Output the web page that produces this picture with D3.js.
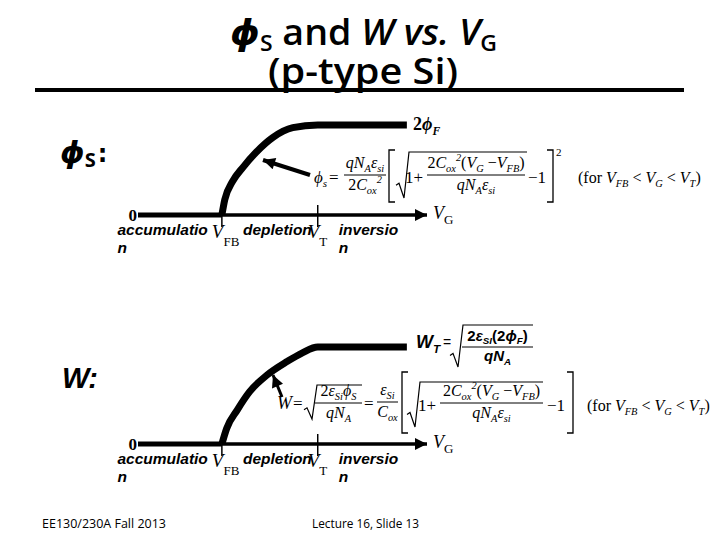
<!DOCTYPE html>
<html>
<head>
<meta charset="utf-8">
<script src="https://cdn.jsdelivr.net/npm/d3@7"></script>
<style>
  body { margin: 0; background: #fff; }
  svg { display: block; }
</style>
</head>
<body>
<div id="chart"></div>
<script>
// gate voltage, normalised so that VFB = 0 and VT = 1
const axisDomain = [-0.875, 2.14];
const vgTicks = [0, 1];
const vgTickNames = [["V", "FB"], ["V", "T"]];
const regionLines = [["accumulatio", "n"], ["depletion"], ["inversio", "n"]];
const regionStart = [-1.09, 0.22, 1.22];

// surface potential, as fraction of 2phiF (first point = accumulation start)
const phiVG = [-0.875, 0, 0.03, 0.11, 0.22, 0.36, 0.53, 0.74, 1.0, 1.93];
const phiVal = [0, 0, 0.17, 0.37, 0.53, 0.70, 0.86, 0.97, 1.0, 1.0];

// depletion width, as fraction of WT
const wVG = [-0.875, 0, 0.05, 0.16, 0.29, 0.47, 0.68, 0.84, 1.0, 1.93];
const wVal = [0, 0, 0.16, 0.35, 0.54, 0.71, 0.85, 0.94, 1.0, 1.0];

const width = 720, height = 540;
const svg = d3.select("#chart").append("svg")
  .attr("width", width)
  .attr("height", height);

svg.append("rect").attr("width", width).attr("height", height).attr("fill", "#fff");

const titleFont = "'Open Sans', 'DejaVu Sans', sans-serif";
const serif = "'Liberation Serif', 'DejaVu Serif', serif";
const sans = "'Liberation Sans', Arial, sans-serif";

// arrow heads
const defs = svg.append("defs");
defs.append("marker")
  .attr("id", "head")
  .attr("markerUnits", "userSpaceOnUse")
  .attr("viewBox", "0 0 10 10")
  .attr("refX", 10).attr("refY", 5)
  .attr("markerWidth", 14).attr("markerHeight", 12)
  .attr("orient", "auto")
  .append("path").attr("d", "M0,0 L10,5 L0,10 Z").attr("fill", "#000");

// ---- title ----
const t1 = svg.append("text")
  .attr("x", 230).attr("y", 45)
  .attr("font-family", titleFont).attr("font-weight", 600).attr("font-size", 36)
  .attr("textLength", 267).attr("lengthAdjust", "spacingAndGlyphs");
t1.append("tspan").attr("font-style", "italic").text("ϕ");
t1.append("tspan").attr("font-size", 22).attr("dy", 6).text("S");
t1.append("tspan").attr("dy", -6).text(" and ");
t1.append("tspan").attr("font-style", "italic").text("W vs. V");
t1.append("tspan").attr("font-size", 22).attr("dy", 6).text("G");

svg.append("text")
  .attr("x", 268).attr("y", 84)
  .attr("font-family", titleFont).attr("font-weight", 600).attr("font-size", 36)
  .attr("textLength", 190).attr("lengthAdjust", "spacingAndGlyphs")
  .text("(p-type Si)");

svg.append("line")
  .attr("x1", 35).attr("x2", 684).attr("y1", 90).attr("y2", 90)
  .attr("stroke", "#000").attr("stroke-width", 4);

// ---- helpers ----
// "_{..}" subscript, "^{..}" superscript, "!{..}" upright, rest italic
function mathText(g, x, y, src, size, o = {}) {
  const t = g.append("text")
    .attr("x", x).attr("y", y)
    .attr("font-family", o.family || serif)
    .attr("font-weight", o.weight || "normal")
    .attr("font-size", size)
    .attr("text-anchor", o.anchor || "start");
  let off = 0;
  const re = /([_^!])\{([^}]*)\}|([^_^!]+)/g;
  let m;
  while ((m = re.exec(src)) !== null) {
    const kind = m[1] || "";
    const txt = m[2] !== undefined ? m[2] : m[3];
    const target = kind === "_" ? size * 0.25 : kind === "^" ? -size * 0.45 : 0;
    const small = kind === "_" || kind === "^";
    t.append("tspan")
      .attr("dy", target - off)
      .attr("font-size", small ? size * 0.65 : size)
      .attr("font-style", kind === "!" || (o.upright && !small) ? "normal" : "italic")
      .text(txt);
    off = target;
  }
  return t;
}

function frac(g, x0, x1, yBar, num, den, size, o = {}) {
  const cx = (x0 + x1) / 2;
  mathText(g, cx, yBar - size * 0.42, num, size, { ...o, anchor: "middle" });
  mathText(g, cx, yBar + size * 0.95, den, size, { ...o, anchor: "middle" });
  g.append("line").attr("x1", x0).attr("x2", x1).attr("y1", yBar).attr("y2", yBar)
    .attr("stroke", "#000").attr("stroke-width", 1);
}

function sqrtSign(g, x, yTop, yBot, xEnd) {
  const yMid = (yTop + yBot) / 2 + (yBot - yTop) * 0.2;
  g.append("path")
    .attr("d", d3.line()([[x, yMid + 1], [x + 3, yMid - 1], [x + 8, yBot], [x + 13, yTop], [xEnd, yTop]]))
    .attr("fill", "none").attr("stroke", "#000").attr("stroke-width", 1.2);
}

function bracket(g, x, yTop, yBot, dir) {
  g.append("path")
    .attr("d", `M${x + 6 * dir},${yTop} H${x} V${yBot} H${x + 6 * dir}`)
    .attr("fill", "none").attr("stroke", "#000").attr("stroke-width", 1.3);
}

// ---- panels ----
const x = d3.scaleLinear().domain(axisDomain).range([138, 427]);

function drawPanel(y0, yTop, vg, val) {
  const y = d3.scaleLinear().domain([0, 1]).range([y0, yTop]);
  const g = svg.append("g");
  const pts = vg.map((v, i) => [x(v), y(val[i])]);

  // axis (thin part + arrow)
  g.append("line")
    .attr("x1", x(0)).attr("x2", x(axisDomain[1]))
    .attr("y1", y0).attr("y2", y0)
    .attr("stroke", "#000").attr("stroke-width", 3.5)
    .attr("marker-end", "url(#head)");

  // ticks at VFB and VT
  g.selectAll(".tick").data(vgTicks).join("line")
    .attr("x1", d => x(d)).attr("x2", d => x(d))
    .attr("y1", (d, i) => i === 0 ? y0 : y0 - 10)
    .attr("y2", y0 + 12)
    .attr("stroke", "#000").attr("stroke-width", 1.5);

  // accumulation part (flat, thick)
  g.append("path")
    .attr("d", d3.line()(pts.slice(0, 2)))
    .attr("stroke", "#000").attr("stroke-width", 5).attr("fill", "none");

  // depletion + inversion curve
  g.append("path")
    .attr("d", d3.line().curve(d3.curveMonotoneX)(pts.slice(1)))
    .attr("stroke", "#000").attr("stroke-width", 7).attr("fill", "none")
    .attr("stroke-linejoin", "round");

  // "0" label
  g.append("text")
    .attr("x", x(axisDomain[0]) - 1).attr("y", y0 + 6)
    .attr("text-anchor", "end")
    .attr("font-family", serif).attr("font-weight", "bold").attr("font-size", 17)
    .text("0");

  // VG label
  mathText(g, x(axisDomain[1]) + 6, y0 + 4, "V", 18, {})
    .append("tspan").attr("dy", 5).attr("font-size", 13).attr("font-style", "normal").text("G");

  // tick labels
  vgTickNames.forEach((nm, i) => {
    mathText(g, x(vgTicks[i]) - 10, y0 + 23, nm[0], 19, {})
      .append("tspan").attr("dy", 8).attr("font-size", 13).attr("font-style", "normal").text(nm[1]);
  });

  // region names
  regionLines.forEach((lines, i) => {
    lines.forEach((ln, j) => {
      g.append("text")
        .attr("x", x(regionStart[i])).attr("y", y0 + 20 + j * 18)
        .attr("font-family", sans).attr("font-weight", "bold")
        .attr("font-style", "italic").attr("font-size", 15.5)
        .text(ln);
    });
  });
  return g;
}

const topG = drawPanel(215, 125, phiVG, phiVal);
const botG = drawPanel(444, 347, wVG, wVal);

// ---- phi_s labels / formula ----
const lphi = svg.append("text").attr("x", 60).attr("y", 163)
  .attr("font-family", "'DejaVu Sans', sans-serif").attr("font-weight", "bold");
lphi.append("tspan").attr("font-size", 31).attr("font-style", "italic").text("ϕ");
lphi.append("tspan").attr("font-size", 20).attr("dy", 4).attr("font-family", titleFont).text("S");
lphi.append("tspan").attr("font-size", 24).attr("dy", -5).attr("dx", 2).text(":");

mathText(topG, 413, 130, "!{2}ϕ_{F}", 18, { weight: "bold" });

topG.append("line")
  .attr("x1", 310).attr("y1", 175).attr("x2", 263).attr("y2", 160)
  .attr("stroke", "#000").attr("stroke-width", 4)
  .attr("marker-end", "url(#head)");

mathText(topG, 314, 183, "ϕ_{s}", 17);
mathText(topG, 329, 183, "!{=}", 17);
frac(topG, 344, 386, 175, "qN_{A}ε_{si}", "!{2}C_{ox}^{2}", 16);
bracket(topG, 389, 150, 202, 1);
sqrtSign(topG, 396, 152, 198, 527);
mathText(topG, 405, 183, "!{1+}", 17);
frac(topG, 427, 525, 175, "!{2}C_{ox}^{2}!{(}V_{G}!{ −}V_{FB}!{)}", "qN_{A}ε_{si}", 16);
mathText(topG, 528, 183, "!{−1}", 17);
bracket(topG, 553, 150, 202, -1);
mathText(topG, 556, 156, "!{2}", 11);
mathText(topG, 578, 183, "!{(for }V_{FB}!{ < }V_{G}!{ < }V_{T}!{)}", 16);

// ---- W labels / formulas ----
svg.append("text").attr("x", 62).attr("y", 388)
  .attr("font-family", sans).attr("font-weight", "bold").attr("font-style", "italic")
  .attr("font-size", 29).text("W:");

mathText(botG, 416, 348, "W_{T}", 18, { family: sans, weight: "bold" });
mathText(botG, 443, 347, "!{=}", 14, { family: sans });
sqrtSign(botG, 450, 325, 367, 533);
frac(botG, 462, 533, 347, "!{2}ε_{SI}!{(2}ϕ_{F}!{)}", "qN_{A}", 15, { family: sans, weight: "bold" });

botG.append("line")
  .attr("x1", 282).attr("y1", 397).attr("x2", 273).attr("y2", 375)
  .attr("stroke", "#000").attr("stroke-width", 3)
  .attr("marker-end", "url(#head)");

mathText(botG, 277, 409, "W", 18);
mathText(botG, 293, 409, "!{=}", 17);
sqrtSign(botG, 304, 385, 419, 362);
frac(botG, 315, 362, 403, "!{2}ε_{Si}ϕ_{S}", "qN_{A}", 16);
mathText(botG, 364, 409, "!{=}", 17);
frac(botG, 377, 398, 402, "ε_{Si}", "C_{ox}", 16);
bracket(botG, 402, 372, 433, 1);
sqrtSign(botG, 407, 382, 427, 543);
mathText(botG, 418, 411, "!{1+}", 17);
frac(botG, 440, 543, 403, "!{2}C_{ox}^{2}!{(}V_{G}!{ −}V_{FB}!{)}", "qN_{A}ε_{si}", 16);
mathText(botG, 547, 411, "!{−1}", 17);
bracket(botG, 573, 372, 433, -1);
mathText(botG, 587, 411, "!{(for  }V_{FB}!{ < }V_{G}!{ < }V_{T}!{)}", 16);

// ---- footer ----
svg.append("text").attr("x", 42).attr("y", 528)
  .attr("font-family", "'Liberation Sans Narrow', 'Open Sans', sans-serif").attr("font-size", 13)
  .attr("textLength", 124).attr("lengthAdjust", "spacingAndGlyphs")
  .text("EE130/230A Fall 2013");
svg.append("text").attr("x", 312).attr("y", 528)
  .attr("font-family", "'Liberation Sans Narrow', 'Open Sans', sans-serif").attr("font-size", 13)
  .attr("textLength", 107).attr("lengthAdjust", "spacingAndGlyphs")
  .text("Lecture 16, Slide 13");
</script>
</body>
</html>
